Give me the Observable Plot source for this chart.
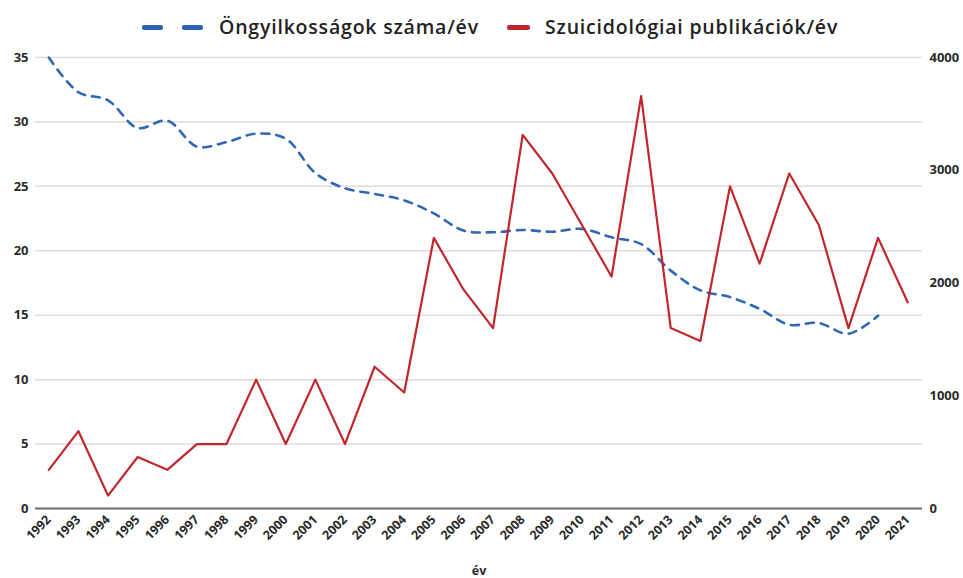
<!DOCTYPE html>
<html>
<head>
<meta charset="utf-8">
<script src="https://cdn.jsdelivr.net/npm/d3@7"></script>
<script src="https://cdn.jsdelivr.net/npm/@observablehq/plot@0.6"></script>
<style>
  html, body { margin: 0; padding: 0; background: #fff; }
  #legend { height: 44px; position: relative; font-family: "Open Sans", sans-serif; font-weight: 600; font-size: 19.5px; color: #222; letter-spacing: 0.8px; }
  .item { display: flex; align-items: center; position: absolute; top: 13px; line-height: 28px; }
  .sw { display: inline-block; width: 21px; height: 5px; border-radius: 2px; }
  #chart svg text { font-family: "Open Sans", sans-serif; }
</style>
</head>
<body>
<div id="legend">
  <div class="item" style="left:142px"><span class="sw" style="background:#2a62b0"></span><span class="sw" style="background:#2a62b0;margin-left:19px"></span><span style="margin-left:16px">Öngyilkosságok száma/év</span></div>
  <div class="item" style="left:507px"><span class="sw" style="background:#c0272d;width:23px"></span><span style="margin-left:15px">Szuicidológiai publikációk/év</span></div>
</div>
<div id="chart"></div>
<script>
const years = [1992,1993,1994,1995,1996,1997,1998,1999,2000,2001,2002,2003,2004,2005,2006,2007,2008,2009,2010,2011,2012,2013,2014,2015,2016,2017,2018,2019,2020,2021];
const publications = [3,6,1,4,3,5,5,10,5,10,5,11,9,21,17,14,29,26,22,18,32,14,13,25,19,26,22,14,21,16];
const suicides = [4000,3692,3620,3375,3440,3210,3250,3325,3280,2975,2840,2790,2733,2617,2465,2450,2470,2455,2480,2405,2345,2110,1935,1875,1770,1630,1645,1550,1710,null];
const leftTicks = [0,5,10,15,20,25,30,35];
const rightTicks = [0,1000,2000,3000,4000];
const rightMax = 4000, leftMax = 35;

const pubData = years.map((y,i) => ({year: y, value: publications[i]}));
const suiData = years.map((y,i) => ({year: y, value: suicides[i]})).filter(d => d.value != null);

const chart = Plot.plot({
  width: 963,
  height: 534,
  marginLeft: 35,
  marginRight: 41,
  marginTop: 13,
  marginBottom: 70,
  style: {fontFamily: "Open Sans, sans-serif", fontSize: "13px", fontWeight: 700, color: "#2a2a2a"},
  x: {domain: [1991.55, 2021.5]},
  y: {domain: [0, leftMax]},
  marks: [
    Plot.ruleY(leftTicks.filter(d => d > 0), {stroke: "#e3d9d9", strokeWidth: 1.5}),
    Plot.ruleY([0], {stroke: "#6e6a68", strokeWidth: 2}),
    Plot.axisY({ticks: leftTicks, tickSize: 0, tickPadding: 7, label: null}),
    Plot.axisY({anchor: "right", ticks: rightTicks.map(v => v * leftMax / rightMax), tickFormat: d => String(Math.round(d * rightMax / leftMax)), tickSize: 0, tickPadding: 7, label: null}),
    Plot.axisX({ticks: years, tickFormat: d => String(d), tickRotate: -45, tickSize: 0, tickPadding: 9, fontSize: 12.5, label: "év", labelAnchor: "center", labelArrow: "none", labelOffset: 66}),
    Plot.line(suiData, {x: "year", y: d => d.value * leftMax / rightMax, stroke: "#2e67b5", strokeWidth: 2.6, strokeDasharray: "8,7", curve: "catmull-rom"}),
    Plot.line(pubData, {x: "year", y: "value", stroke: "#c0272d", strokeWidth: 2.2})
  ]
});
document.getElementById("chart").appendChild(chart);
</script>
</body>
</html>
